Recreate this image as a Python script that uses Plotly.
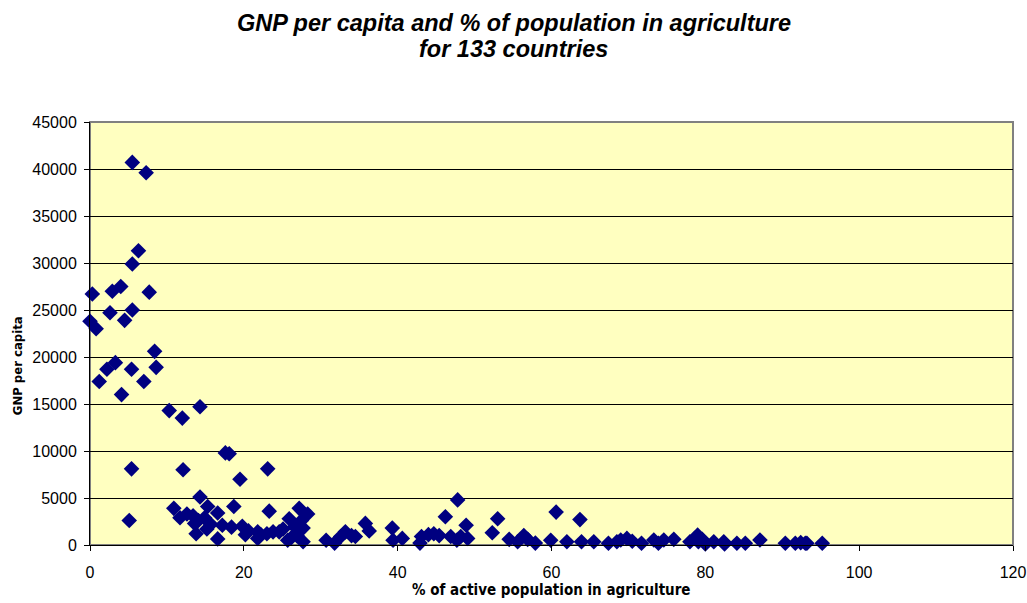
import plotly.graph_objects as go

# % of active population in agriculture
pct_agri = [
    5.5, 7.3, 6.3, 5.5, 0.3, 2.9, 4.0, 7.7, 2.6, 5.5,
    4.5, 0.0, 0.8, 8.4, 8.6, 3.3, 2.2, 5.4, 1.2, 7.0,
    4.1, 10.3, 12.0, 14.3, 17.6, 18.1, 5.4, 12.1, 23.1, 19.5,
    14.3, 5.1, 10.9, 11.7, 15.3, 16.6, 18.7, 13.4, 13.6, 14.9,
    15.7, 13.8, 16.6, 18.4, 19.8, 20.6, 21.8, 21.8, 22.2, 23.3,
    23.8, 24.6, 25.9, 25.7, 26.6, 27.2, 28.3, 27.7, 27.7, 26.9,
    30.7, 31.8, 33.2, 34.0, 34.5, 35.8, 36.3, 39.3, 39.4, 40.6,
    42.9, 43.1, 44.7, 45.4, 46.2, 46.9, 47.8, 47.7, 48.9, 49.1,
    52.3, 53.0, 54.5, 55.6, 56.4, 57.9, 59.9, 60.6, 62.0, 63.7,
    63.9, 65.5, 67.4, 68.5, 69.0, 69.8, 71.7, 73.3, 73.9, 74.6,
    75.9, 78.0, 79.0, 79.1, 80.0, 81.1, 82.4, 82.5, 84.1, 85.2,
    87.1, 90.4, 91.7, 93.0, 93.2, 95.2, 12.6, 14.1, 15.2, 17.2,
    20.2, 23.0, 25.1, 26.2, 27.5, 32.6, 44.0, 48.2, 56.9, 70.5,
    78.6, 79.6, 92.4,
]

# GNP per capita for the same countries
gnp = [
    40700, 39600, 31300, 29900, 26700, 27000, 27500, 26900, 24700, 25000,
    23900, 23800, 23000, 20600, 18900, 19400, 18700, 18700, 17400, 17400,
    16000, 14300, 13500, 14700, 9800, 9700, 8100, 8000, 8100, 7000,
    5100, 2600, 3900, 2900, 4100, 3400, 4100, 3100, 2300, 2900,
    2200, 1200, 650, 1900, 2000, 1500, 1400, 700, 1100, 3600,
    1400, 1400, 2800, 500, 1950, 3900, 3300, 1800, 350, 1000,
    500, 200, 1400, 1000, 900, 2300, 1500, 1800, 500, 700,
    200, 900, 1200, 1000, 3000, 900, 4800, 500, 2100, 700,
    1300, 2800, 600, 350, 1000, 200, 500, 3500, 350, 2700,
    350, 350, 180, 350, 530, 700, 180, 530, 180, 530,
    600, 350, 1050, 350, 100, 350, 350, 100, 180, 180,
    530, 180, 180, 180, 180, 180, 3300, 2600, 1700, 2100,
    1100, 1200, 1700, 800, 2600, 900, 1100, 900, 600, 400,
    700, 600, 250,
]

title_lines = ['GNP per capita and % of population in agriculture', 'for 133 countries']

fig = go.Figure()

fig.add_trace(go.Scatter(
    x=pct_agri,
    y=gnp,
    mode='markers',
    marker=dict(symbol='diamond', size=12, color='#000080', line=dict(width=0)),
    cliponaxis=False,
    showlegend=False,
))

# gray plot-area frame, like the Excel original
fig.add_shape(type='rect', xref='paper', yref='paper', x0=0, y0=0, x1=1, y1=1,
              line=dict(color='#808080', width=2), layer='below')

# two-line title, placed as annotations to get the line spacing right
for line, ypos in zip(title_lines, [1.234, 1.173]):
    fig.add_annotation(
        text='<b><i>' + line + '</i></b>',
        xref='paper', yref='paper', x=0.459, y=ypos,
        xanchor='center', yanchor='middle', showarrow=False,
        font=dict(family='Liberation Sans, Arial', size=23.5, color='black'),
    )

axis_title_font = dict(family='DejaVu Sans Condensed, Liberation Sans Narrow', color='black')

fig.add_annotation(
    text='<b>GNP per capita</b>',
    xref='paper', yref='paper', x=-0.079, y=0.423,
    xanchor='center', yanchor='middle',
    textangle=-90, showarrow=False,
    font=dict(axis_title_font, size=13),
)
fig.add_annotation(
    text='<b>% of active population in agriculture</b>',
    xref='paper', yref='paper', x=0.5, y=-0.106,
    xanchor='center', yanchor='middle', showarrow=False,
    font=dict(axis_title_font, size=15),
)

fig.update_layout(
    width=1027, height=603,
    margin=dict(l=90, r=14, t=122, b=58),
    plot_bgcolor='#FFFFC0',
    paper_bgcolor='white',
    font=dict(family='Liberation Sans, Arial', size=16, color='black'),
    xaxis=dict(
        range=[0, 120], dtick=20, showgrid=False, zeroline=False,
        showline=True, linecolor='black', linewidth=1, automargin=False,
        ticks='outside', ticklen=5, tickcolor='black', ticklabelstandoff=8,
        ticklabeloverflow='allow',
    ),
    yaxis=dict(
        range=[0, 45000], dtick=5000, tickformat='d',
        showgrid=True, gridcolor='black', gridwidth=1, automargin=False,
        zeroline=False, showline=True, linecolor='black', linewidth=1,
        ticks='outside', ticklen=5, tickcolor='black', ticklabelstandoff=4,
    ),
)

# drop the default body margin so the figure fills the window exactly
fig.write_html("out.html", config={'displayModeBar': False},
               post_script="document.body.style.margin = '0';")
